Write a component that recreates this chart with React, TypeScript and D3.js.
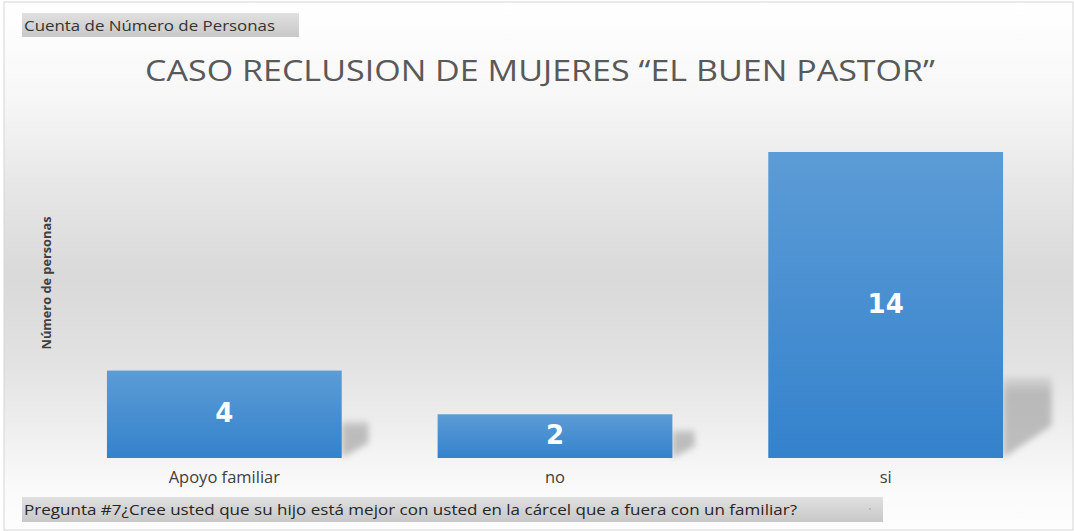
import React from "react";
import * as d3 from "d3";

const categories = ["Apoyo familiar", "no", "si"];
const values = [4, 2, 14];
const title = "CASO RECLUSION DE MUJERES \u201CEL BUEN PASTOR\u201D";
const fieldLabel = "Cuenta de Número de Personas";
const yLabel = "Número de personas";
const question = "Pregunta #7¿Cree usted que su hijo está mejor con usted en la cárcel que a fuera con un familiar?";

const W = 1074;
const H = 531;

export default function App() {
  const x = d3.scaleBand<string>().domain(categories).range([59, 1051]).paddingInner(0.29).paddingOuter(0.145);
  const y = d3.scaleLinear().domain([0, 14]).range([458, 152]);
  const base = y(0);

  return (
    <svg width={W} height={H} style={{ position: "absolute", left: 0, top: 0 }} xmlns="http://www.w3.org/2000/svg">
      <defs>
        <linearGradient id="bg" x1="0" y1="0" x2="0" y2="1">
          <stop offset="0" stopColor="#ffffff" />
          <stop offset="0.18" stopColor="#f7f7f7" />
          <stop offset="0.36" stopColor="#e6e6e6" />
          <stop offset="0.52" stopColor="#d9d9d9" />
          <stop offset="0.68" stopColor="#e2e2e2" />
          <stop offset="0.84" stopColor="#f2f2f2" />
          <stop offset="0.92" stopColor="#fafafa" />
          <stop offset="1" stopColor="#fdfdfd" />
        </linearGradient>
        <linearGradient id="bar" x1="0" y1="0" x2="0" y2="1">
          <stop offset="0" stopColor="#5c9cd6" />
          <stop offset="1" stopColor="#3482cc" />
        </linearGradient>
        <linearGradient id="box" x1="0" y1="0" x2="0" y2="1">
          <stop offset="0" stopColor="#e0e0e0" />
          <stop offset="1" stopColor="#c8c8c8" />
        </linearGradient>
        <linearGradient id="shadow" x1="0" y1="0" x2="0" y2="1">
          <stop offset="0" stopColor="#9a9a9a" stopOpacity="0.2" />
          <stop offset="0.2" stopColor="#9a9a9a" stopOpacity="0.6" />
          <stop offset="1" stopColor="#9a9a9a" stopOpacity="0.6" />
        </linearGradient>
        <filter id="blur" x="-50%" y="-50%" width="200%" height="200%">
          <feGaussianBlur stdDeviation="3" />
        </filter>
      </defs>
      <rect x={4} y={2} width={1069} height={528} fill="url(#bg)" stroke="#d6d6d6" strokeWidth={1} />

      <rect x={22} y={13} width={277} height={24} fill="url(#box)" />
      <text x={24} y={31} fontFamily="Open Sans, sans-serif" fontSize={14.5} fill="#333" textLength={251} lengthAdjust="spacingAndGlyphs">{fieldLabel}</text>

      <text x={540} y={81} textAnchor="middle" fontFamily="Open Sans, sans-serif" fontSize={29} fill="#595959" textLength={790} lengthAdjust="spacingAndGlyphs">{title}</text>

      <text transform="translate(51,283) rotate(-90)" textAnchor="middle" fontFamily="Open Sans, sans-serif" fontWeight="bold" fontSize={13} fill="#404040" textLength={133} lengthAdjust="spacingAndGlyphs">{yLabel}</text>

      {categories.map((c, i) => {
        const x0 = x(c)!;
        const bw = x.bandwidth();
        const top = y(values[i]);
        const h = base - top;
        const sw = 18 + h * 0.1;
        const sh = Math.min(h, 20 + h * 0.2);
        const sx = x0 + bw;
        const pts = `${sx},${base - sh} ${sx + sw},${base - sh} ${sx + sw},${base - sh * 0.4} ${sx},${base}`;
        return (
          <g key={c}>
            <polygon points={pts} fill="url(#shadow)" filter="url(#blur)" />
            <rect x={x0} y={top} width={bw} height={h} fill="url(#bar)" />
            <text x={x0 + bw / 2} y={top + h / 2 + 8} textAnchor="middle" fontFamily="DejaVu Sans, sans-serif" fontWeight="bold" fontSize={26} fill="#ffffff">{values[i]}</text>
            <text x={x0 + bw / 2} y={483} textAnchor="middle" fontFamily="Open Sans, sans-serif" fontSize={16.5} fill="#404040">{c}</text>
          </g>
        );
      })}

      <rect x={22} y={497} width={861} height={25} fill="url(#box)" />
      <text x={24} y={515} fontFamily="Open Sans, sans-serif" fontSize={15} fill="#262626" textLength={773} lengthAdjust="spacingAndGlyphs">{question}</text>
      <circle cx={870} cy={509} r={0.8} fill="#999" />
    </svg>
  );
}
